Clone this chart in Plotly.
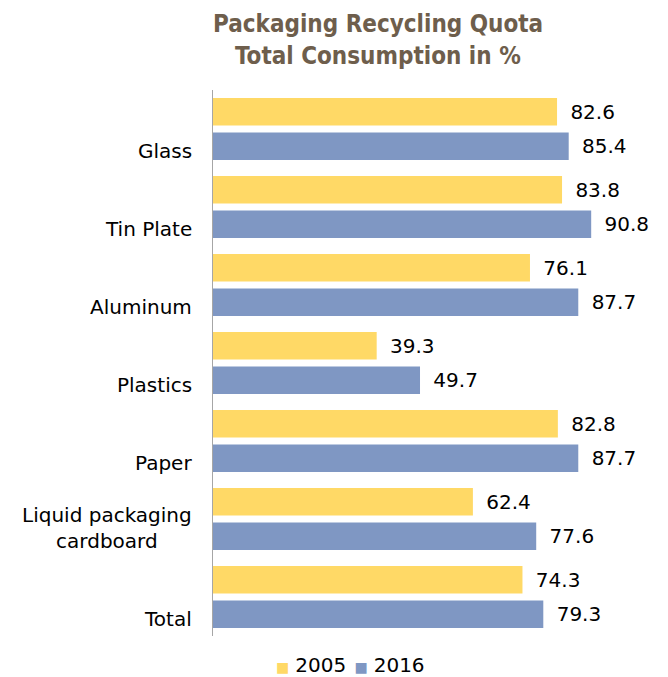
import plotly.graph_objects as go

categories = ["Glass", "Tin Plate", "Aluminum", "Plastics", "Paper",
              "Liquid packaging<br>cardboard", "Total"]
values_2005 = [82.6, 83.8, 76.1, 39.3, 82.8, 62.4, 74.3]
values_2016 = [85.4, 90.8, 87.7, 49.7, 87.7, 77.6, 79.3]
series_names = ["2005", "2016"]
title_lines = ["Packaging Recycling Quota", "Total Consumption in %"]

FONT = "DejaVu Sans, Verdana, sans-serif"
YELLOW = "#FFD966"
BLUE = "#7F97C3"
TITLE_COLOR = "#6E5E4C"
colors = [YELLOW, BLUE]

# page body has an 8px default margin, so the figure is drawn 8px in/down
W, H = 660, 669
L, T = 205, 82
PLOT_W = 454

fig = go.Figure()
for name, vals, col in zip(series_names, [values_2005, values_2016], colors):
    fig.add_trace(go.Bar(
        y=categories, x=vals, name=name, orientation="h",
        marker=dict(color=col, line=dict(width=0)),
        text=[f" \u2009{v:.1f}" for v in vals], textposition="outside",
        textfont=dict(family=FONT, size=20, color="#000000"),
        cliponaxis=False, hoverinfo="skip", showlegend=False,
    ))

annotations = []
for c in categories:
    annotations.append(dict(
        x=0, xref="paper", y=c, yref="y", xanchor="right", yanchor="bottom",
        xshift=-19, yshift=-36, text=c, showarrow=False, align="center",
        font=dict(family=FONT, size=20, color="#000000"),
    ))

# title lines
for line, ys in zip(title_lines, [50, 18]):
    annotations.append(dict(
        x=(378 - 213) / PLOT_W, xref="paper", y=1, yref="paper",
        xanchor="center", yanchor="bottom", yshift=ys,
        text=f"<b>{line}</b>", showarrow=False,
        font=dict(family="DejaVu Sans Condensed, DejaVu Sans, sans-serif",
                  size=24, color=TITLE_COLOR),
    ))

# legend
legend_parts = [
    f'<span style="color:{col};font-size:14px">\u25A0</span>\u2009\u200A{name}'
    for name, col in zip(series_names, colors)
]
annotations.append(dict(
    x=(350 - 213) / PLOT_W, xref="paper", y=0, yref="paper",
    xanchor="center", yanchor="middle", yshift=-29,
    text=" \u200A".join(legend_parts), showarrow=False,
    font=dict(family=FONT, size=20, color="#000000"),
))

fig.update_layout(
    width=W, height=H,
    margin=dict(l=L, r=W - L - PLOT_W, t=T, b=H - (636 - 8), autoexpand=False),
    paper_bgcolor="white", plot_bgcolor="white",
    barmode="group", bargap=0.115, bargroupgap=0.2,
    xaxis=dict(range=[0, 109], visible=False, fixedrange=True),
    yaxis=dict(autorange="reversed", showticklabels=False, ticks="",
               showline=True, linecolor="#A6A6A6", linewidth=1,
               showgrid=False, zeroline=False),
    annotations=annotations,
    showlegend=False,
)

fig.write_html("out.html")
